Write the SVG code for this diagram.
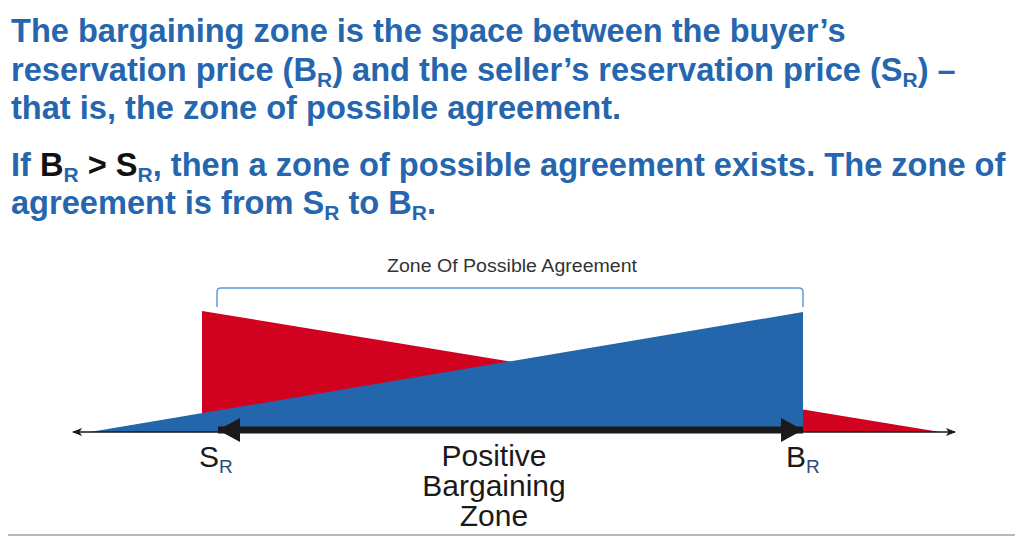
<svg xmlns="http://www.w3.org/2000/svg" width="1024" height="544" viewBox="0 0 1024 544">
<style>
.title{font-family:"Liberation Sans",Arial,sans-serif;font-weight:bold;font-size:32.6px;fill:#2566ae}
.sub{font-size:21px}
.dark{fill:#111111}
.lbl{font-family:"Liberation Sans",Arial,sans-serif;font-size:30px;fill:#1a1a1a}
.lsub{font-size:19px;fill:#2a4a78}
.zone{font-family:"Liberation Sans",Arial,sans-serif;font-size:18px;fill:#333333}
</style>
<defs>
<marker id="small" viewBox="0 0 10 8" refX="9" refY="4" markerWidth="10" markerHeight="8" markerUnits="userSpaceOnUse" orient="auto-start-reverse">
<path d="M0,0 L10,4 L0,8 L2.5,4 Z" fill="#1a1a1a"/>
</marker>
<marker id="big" viewBox="0 0 22 24" refX="22" refY="12" markerWidth="22" markerHeight="24" markerUnits="userSpaceOnUse" orient="auto-start-reverse">
<path d="M0,0 L22,12 L0,24 Z" fill="#1a1a1a"/>
</marker>
</defs>
<rect width="1024" height="544" fill="#ffffff"/>
<g id="title">
<text class="title" x="11" y="42">The bargaining zone is the space between the buyer’s</text>
<text class="title" x="11" y="81">reservation price (B<tspan class="sub" dy="6">R</tspan><tspan dy="-6">) and the seller’s reservation price (S</tspan><tspan class="sub" dy="6">R</tspan><tspan dy="-6">) –</tspan></text>
<text class="title" x="11" y="119">that is, the zone of possible agreement.</text>
<text class="title" x="11" y="176">If <tspan class="dark">B</tspan><tspan class="sub" dy="6">R</tspan><tspan class="dark" dy="-6"> &gt; S</tspan><tspan class="sub" dy="6">R</tspan><tspan dy="-6">, then a zone of possible agreement exists. The zone of</tspan></text>
<text class="title" x="11" y="214">agreement is from S<tspan class="sub" dy="6">R</tspan><tspan dy="-6"> to B</tspan><tspan class="sub" dy="6">R</tspan><tspan dy="-6">.</tspan></text>
</g>
<g id="seller-area">
<polygon points="202,311 940,432 202,432" fill="#d0021f"/>
</g>
<g id="buyer-area">
<polygon points="90,432 803,312 803,433" fill="#2466ac"/>
</g>
<g id="zopa-bracket">
<path d="M217,307 L217,292 Q217,288 221,288 L799,288 Q803,288 803,292 L803,307" fill="none" stroke="#5b9bd5" stroke-width="1.5"/>
<text class="zone" x="512" y="272" text-anchor="middle" textLength="250" lengthAdjust="spacingAndGlyphs">Zone Of Possible Agreement</text>
</g>
<g id="connectors">
<line x1="73" y1="432" x2="955" y2="432" stroke="#1a1a1a" stroke-width="1.5" marker-start="url(#small)" marker-end="url(#small)"/>
<line x1="218" y1="430" x2="803" y2="430" stroke="#1a1a1a" stroke-width="7" marker-start="url(#big)" marker-end="url(#big)"/>
</g>
<g id="label-sr">
<text class="lbl" x="199" y="467">S<tspan class="lsub" dy="6">R</tspan></text>
</g>
<g id="label-br">
<text class="lbl" x="786" y="467">B<tspan class="lsub" dy="6">R</tspan></text>
</g>
<g id="label-zone">
<text class="lbl" text-anchor="middle" x="494" y="466">Positive</text>
<text class="lbl" text-anchor="middle" x="494" y="496">Bargaining</text>
<text class="lbl" text-anchor="middle" x="494" y="526">Zone</text>
</g>
<line x1="8" y1="535" x2="1015" y2="535" stroke="#a0a0a0" stroke-width="1.5"/>
</svg>
